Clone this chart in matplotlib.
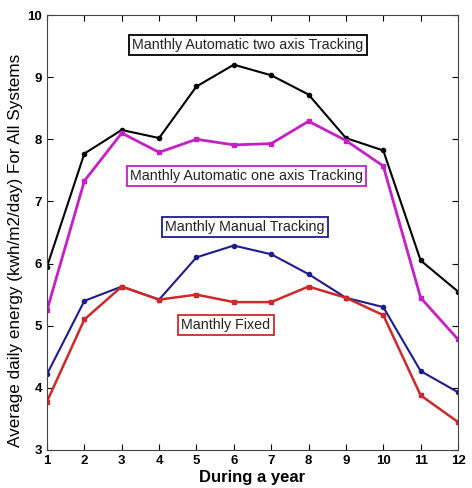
import matplotlib
matplotlib.use("Agg")
import matplotlib.pyplot as plt

plt.rcParams['font.family'] = ['Liberation Sans', 'DejaVu Sans']

months = list(range(1, 13))
two_axis = [5.95, 7.77, 8.15, 8.02, 8.85, 9.2, 9.03, 8.72, 8.02, 7.82, 6.05, 5.55]
one_axis = [5.25, 7.33, 8.1, 7.79, 8.0, 7.91, 7.93, 8.29, 7.98, 7.57, 5.45, 4.78]
manual = [4.22, 5.4, 5.63, 5.42, 6.1, 6.29, 6.15, 5.83, 5.45, 5.3, 4.27, 3.93]
fixed = [3.78, 5.1, 5.63, 5.42, 5.5, 5.38, 5.38, 5.63, 5.45, 5.17, 3.88, 3.45]

labels = ["Manthly Automatic two axis Tracking", "Manthly Automatic one axis Tracking",
          "Manthly Manual Tracking", "Manthly Fixed"]
colors = ["black", "#c51fc5", "#1c1c8e", "#cc2a2a"]
label_pos = [(6.38, 9.52), (6.33, 7.41), (6.3, 6.59), (5.79, 5.01)]

fig = plt.figure(figsize=(4.72, 4.88), dpi=100)
ax = fig.add_axes([47/472, 1 - 450/488, 411/472, 435/488])

series = [two_axis, one_axis, manual, fixed]
lws = [1.5, 2.0, 1.5, 1.8]
markers = ['o', 's', 'o', 's']
msizes = [3, 3.5, 3, 3.5]
for s, c, lw, m, ms in zip(series, colors, lws, markers, msizes):
    ax.plot(months, s, color=c, lw=lw, marker=m, ms=ms)

for lab, c, (x, y) in zip(labels, colors, label_pos):
    ax.text(x, y, lab, color='#222222', fontsize=10.3, ha='center', va='center',
            bbox=dict(boxstyle='square,pad=0.22', fc='white', ec=c, lw=1.3))

ax.set_xlim(1, 12)
ax.set_ylim(3, 10)
ax.set_xticks(months)
ax.set_yticks(range(3, 11))
ax.tick_params(direction='in', top=True, right=True, labelsize=9.5, length=4)
for t in ax.get_xticklabels() + ax.get_yticklabels():
    t.set_fontweight('bold')
ax.set_xlabel("During a year", fontsize=12, fontweight='bold')
ax.xaxis.set_label_coords(0.5, -0.045)
ax.set_ylabel("Average daily energy (kwh/m2/day) For All Systems", fontsize=12.3)
ax.yaxis.set_label_coords(-0.058, 0.46)
for sp in ax.spines.values():
    sp.set_color('#444444')

fig.savefig("out.png", dpi=100)
